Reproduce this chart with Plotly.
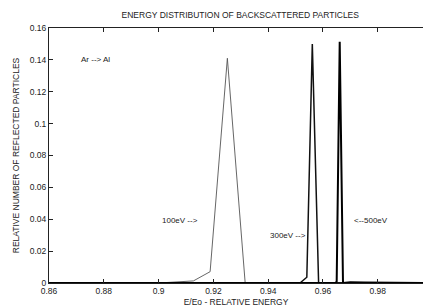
import plotly.graph_objects as go

# Data
energy_100 = [0.86, 0.900, 0.9127, 0.9188, 0.9251, 0.9316, 0.94, 0.9965]
counts_100 = [0.0, 0.0, 0.0013, 0.0071, 0.141, 0.0, 0.0, 0.0]

energy_300 = [0.86, 0.9516, 0.9541, 0.9561, 0.9584, 0.962, 0.965, 0.9965]
counts_300 = [0.0, 0.0, 0.0036, 0.150, 0.0, 0.0003, 0.0002, 0.0]

energy_500 = [0.86, 0.9646, 0.9650, 0.9661, 0.9673, 0.970, 0.975, 0.9965]
counts_500 = [0.0, 0.0, 0.001, 0.1513, 0.0, 0.0005, 0.0003, 0.0]

x_ticks = [0.86, 0.88, 0.90, 0.92, 0.94, 0.96, 0.98]
x_tick_labels = ["0.86", "0.88", "0.9", "0.92", "0.94", "0.96", "0.98"]
y_ticks = [0, 0.02, 0.04, 0.06, 0.08, 0.10, 0.12, 0.14, 0.16]
y_tick_labels = ["0", "0.02", "0.04", "0.06", "0.08", "0.1", "0.12", "0.14", "0.16"]

annotations_text = ["Ar --> Al", "100eV -->", "300eV -->", "<--500eV"]
annotations_x = [0.871, 0.9005, 0.9401, 0.9706]
annotations_y = [0.1405, 0.0395, 0.0295, 0.0395]

font = "Liberation Sans, Arial, sans-serif"

fig = go.Figure()
fig.add_trace(go.Scatter(x=energy_100, y=counts_100, mode="lines",
                         line=dict(color="#555555", width=0.9), showlegend=False))
fig.add_trace(go.Scatter(x=energy_300, y=counts_300, mode="lines",
                         line=dict(color="#111111", width=1.5), showlegend=False))
fig.add_trace(go.Scatter(x=energy_500, y=counts_500, mode="lines",
                         line=dict(color="#000000", width=2), showlegend=False))

for t, x, y in zip(annotations_text, annotations_x, annotations_y):
    fig.add_annotation(x=x, y=y, text=t, showarrow=False, xanchor="left",
                       yanchor="middle", font=dict(size=8, color="#222222", family=font))

fig.update_layout(
    width=423, height=307,
    margin=dict(l=49, r=0, t=28, b=24),
    paper_bgcolor="white", plot_bgcolor="white",
    font=dict(family=font, size=8.5, color="#222222"),
    title=dict(text="ENERGY DISTRIBUTION OF BACKSCATTERED PARTICLES",
               x=0.568, xanchor="center", y=0.95, yanchor="middle",
               font=dict(size=8.5, family=font, color="#222222")),
)
fig.update_xaxes(range=[0.86, 0.9965], tickvals=x_ticks, ticktext=x_tick_labels,
                 showgrid=False, zeroline=False, showline=True, mirror="ticks",
                 linecolor="#222222", linewidth=1, ticks="inside", ticklen=4,
                 tickcolor="#222222",
                 title=dict(text="E/Eo - RELATIVE ENERGY", standoff=4,
                            font=dict(size=8.5, family=font)))
fig.update_yaxes(range=[0, 0.16], tickvals=y_ticks, ticktext=y_tick_labels,
                 showgrid=False, zeroline=False, showline=True,
                 linecolor="#222222", linewidth=1, ticks="inside", ticklen=4,
                 tickcolor="#222222",
                 title=dict(text="RELATIVE NUMBER OF REFLECTED PARTICLES", standoff=8,
                            font=dict(size=8.5, family=font)))

fig.write_html("out.html", config={"displayModeBar": False},
               post_script="document.body.style.margin='0';")
